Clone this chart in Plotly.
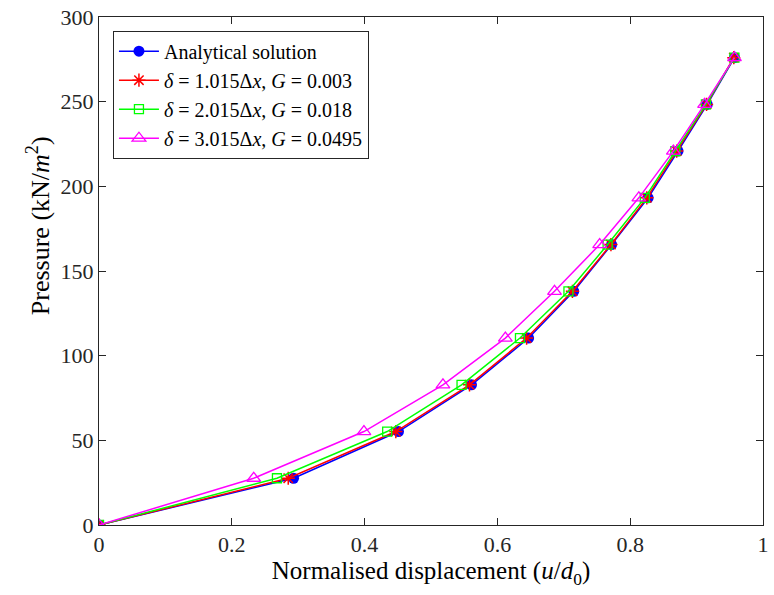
import plotly.graph_objects as go

pressure = [0, 27.6, 55.2, 82.8, 110.4, 138.0, 165.6, 193.2, 220.8, 248.4, 276.0]
x_analytical = [0, 0.293, 0.451, 0.561, 0.647, 0.715, 0.772, 0.827, 0.872, 0.916, 0.957]
x_d1 = [0, 0.285, 0.447, 0.558, 0.644, 0.713, 0.771, 0.825, 0.870, 0.915, 0.956]
x_d2 = [0, 0.268, 0.434, 0.546, 0.634, 0.707, 0.766, 0.822, 0.868, 0.914, 0.957]
x_d3 = [0, 0.233, 0.399, 0.518, 0.612, 0.686, 0.754, 0.813, 0.865, 0.912, 0.957]

x_ticks = [0, 0.2, 0.4, 0.6, 0.8, 1]
x_tick_labels = ["0", "0.2", "0.4", "0.6", "0.8", "1"]
y_ticks = [0, 50, 100, 150, 200, 250, 300]

names = ["Analytical solution",
         "<i>δ</i> = 1.015Δ<i>x</i>, <i>G</i> = 0.003",
         "<i>δ</i> = 2.015Δ<i>x</i>, <i>G</i> = 0.018",
         "<i>δ</i> = 3.015Δ<i>x</i>, <i>G</i> = 0.0495"]

FONT = "Liberation Serif"
AX = "#262626"

fig = go.Figure()
fig.add_trace(go.Scatter(x=x_analytical, y=pressure, name=names[0], mode="lines+markers",
                         line=dict(color="#0000ff", width=1.5),
                         marker=dict(symbol="circle", size=11, color="#0000ff")))
fig.add_trace(go.Scatter(x=x_d1, y=pressure, name=names[1], mode="lines+markers",
                         line=dict(color="#ff0000", width=1.5),
                         marker=dict(symbol="asterisk-open", size=11, color="#ff0000",
                                     line=dict(color="#ff0000", width=1.5))))
fig.add_trace(go.Scatter(x=x_d2, y=pressure, name=names[2], mode="lines+markers",
                         line=dict(color="#00ff00", width=1.5),
                         marker=dict(symbol="square-open", size=9, color="#00ff00",
                                     line=dict(color="#00ff00", width=1.3))))
fig.add_trace(go.Scatter(x=x_d3, y=pressure, name=names[3], mode="lines+markers",
                         line=dict(color="#ff00ff", width=1.5),
                         marker=dict(symbol="triangle-up-open", size=12, color="#ff00ff",
                                     line=dict(color="#ff00ff", width=1.3))))

axis_common = dict(showline=True, linecolor=AX, linewidth=1, mirror="ticks",
                   ticks="inside", ticklen=7, tickcolor=AX, showgrid=False, zeroline=False,
                   ticklabeloverflow="allow",
                   tickfont=dict(family=FONT, size=22, color=AX))

fig.update_layout(
    width=774, height=595,
    margin=dict(l=99, r=5, t=15, b=70),
    plot_bgcolor="white", paper_bgcolor="white",
    font=dict(family=FONT, color=AX),
    xaxis=dict(range=[0, 1], tickvals=x_ticks, ticktext=x_tick_labels,
               title=dict(text="Normalised displacement (<i>u</i>/<i>d</i><sub>0</sub>)",
                          font=dict(family=FONT, size=25, color="black"), standoff=4),
               **axis_common),
    yaxis=dict(range=[0, 300], tickvals=y_ticks, **axis_common),
    legend=dict(x=0.021, y=0.973, xanchor="left", yanchor="top",
                bgcolor="white", bordercolor=AX, borderwidth=1,
                font=dict(family=FONT, size=20, color="black"),
                tracegroupgap=0, itemwidth=40),
    showlegend=True,
    annotations=[dict(text="Pressure (kN/<i>m</i><sup>2</sup>)", textangle=-90,
                      xref="paper", yref="paper", x=-0.092, y=0.59,
                      xanchor="center", yanchor="middle", showarrow=False,
                      font=dict(family=FONT, size=26, color="black"))],
)

fig.write_html("out.html")
